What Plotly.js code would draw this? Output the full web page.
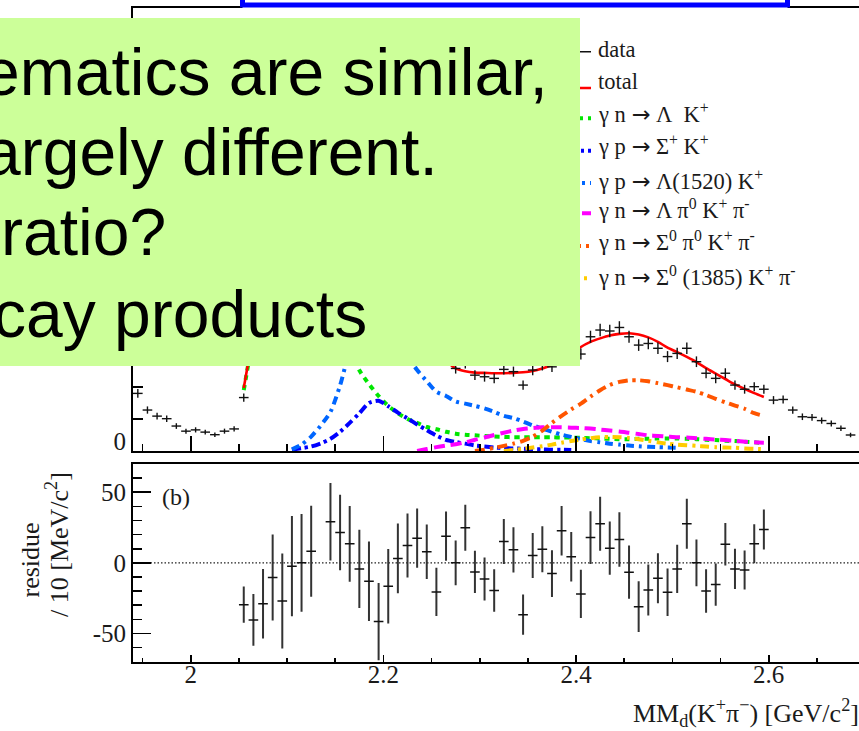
<!DOCTYPE html>
<html>
<head>
<meta charset="utf-8">
<script src="https://cdn.plot.ly/plotly-3.0.1.min.js"></script>
<style>
  html, body { margin: 0; padding: 0; overflow: hidden; background: #fff; }
  #chart { width: 906px; height: 731px; margin-left: -40px; }
</style>
</head>
<body>
<div id="chart"></div>
<script>
// Missing-mass spectrum MM_d(K+ pi-) in 10 MeV/c^2 bins (bin centres, GeV/c^2)
const dataX = [
  1.945, 1.955, 1.965, 1.975, 1.985, 1.995, 2.005, 2.015, 2.025, 2.035,
  2.045, 2.055, 2.065, 2.075, 2.085, 2.095, 2.105, 2.115, 2.125, 2.135,
  2.145, 2.155, 2.165, 2.175, 2.185, 2.195, 2.205, 2.215, 2.225, 2.235,
  2.245, 2.255, 2.265, 2.275, 2.285, 2.295, 2.305, 2.315, 2.325, 2.335,
  2.345, 2.355, 2.365, 2.375, 2.385, 2.395, 2.405, 2.415, 2.425, 2.435,
  2.445, 2.455, 2.465, 2.475, 2.485, 2.495, 2.505, 2.515, 2.525, 2.535,
  2.545, 2.555, 2.565, 2.575, 2.585, 2.595, 2.605, 2.615, 2.625, 2.635,
  2.645, 2.655, 2.665, 2.675, 2.685
];
// counts per bin
const dataY = [
  180, 128, 109, 101, 78, 62, 66, 59, 51, 62,
  69, 167, 335, 605, 924, 1129, 1260, 1197, 1037, 890,
  751, 713, 718, 767, 790, 751, 697, 610, 511, 441,
  372, 292, 303, 258, 274, 237, 232, 227, 255, 248,
  206, 253, 268, 263, 304, 304, 303, 357, 378, 375,
  386, 357, 331, 336, 321, 295, 305, 321, 279, 243,
  227, 243, 206, 193, 201, 193, 159, 161, 128, 107,
  105, 95, 86, 71, 50
];

// fit range: 2.055 ... 2.595
const fitX = dataX.slice(11, 66);

const totalY = [
  197, 375, 634, 934, 1156, 1262, 1197, 1029, 880, 722,
  692, 705, 771, 803, 793, 714, 607, 499, 424, 364,
  313, 282, 258, 249, 245, 244, 243, 243, 244, 246,
  250, 258, 269, 281, 300, 325, 341, 352, 361, 366,
  368, 364, 355, 341, 323, 309, 294, 278, 259, 242,
  225, 208, 194, 181, 169
];
const lambdaK = [
  190, 370, 625, 925, 1145, 1250, 1167, 967, 776, 564,
  427, 317, 252, 209, 172, 141, 118, 100, 88, 75,
  68, 60, 54, 51, 49, 47, 45, 44, 43, 43,
  43, 43, 43, 42, 42, 41, 40, 39, 38, 37,
  37, 38, 38, 39, 39, 39, 38, 37, 35, 34,
  32, 31, 29, 27, 25
];
const sigmaPlusK = [
  null, null, null, null, null, 4, 9, 14, 24, 38,
  60, 88, 118, 150, 157, 140, 120, 102, 83, 65,
  48, 35, 28, 23, 17, 14, 11, 9, 8, 7,
  6, 5, 4, 4, 3, null, null, null, null, null,
  null, null, null, null, null, null, null, null, null, null,
  null, null, null, null, null
];
const lambda1520K = [
  null, null, null, null, null, 5, 20, 45, 80, 122,
  205, 317, 401, 444, 464, 433, 369, 297, 253, 218,
  185, 172, 155, 148, 141, 133, 122, 110, 103, 92,
  80, 70, 60, 51, 44, 37, 31, 27, 23, 20,
  17, 15, 13, 12, 11, 10, null, null, null, null,
  null, null, null, null, null
];
const lambdaPi0KPi = [
  null, null, null, null, null, null, null, null, null, null,
  null, null, null, null, null, null, null, null, 0, 6,
  12, 17, 21, 27, 35, 42, 50, 57, 64, 69,
  72, 74, 74, 74, 73, 72, 70, 67, 64, 61,
  57, 53, 49, 47, 45, 43, 42, 40, 38, 36,
  34, 32, 29, 27, 26
];
const sigma0Pi0KPi = [
  null, null, null, null, null, null, null, null, null, null,
  null, null, null, null, null, null, null, null, null, null,
  null, null, null, null, 0, 4, 10, 16, 23, 32,
  45, 64, 88, 110, 130, 148, 170, 190, 206, 216,
  221, 221, 218, 212, 206, 199, 192, 185, 175, 163,
  152, 142, 132, 118, 110
];
const sigma1385KPi = [
  null, null, null, null, null, null, null, null, null, null,
  null, null, null, null, null, null, null, null, null, null,
  null, null, null, null, null, null, null, 0, 3, 7,
  11, 15, 20, 26, 31, 36, 40, 43, 44, 43,
  41, 37, 32, 27, 23, 20, 18, 16, 14, 12,
  11, 10, 8, 7, 6
];

// residue (data - fit) per 10 MeV/c^2 and its uncertainty
const residY = [
  -29.6, -40.4, -29.0, -10.4, -27.0, -2.4, 0.0, 8.2, null, 29.1,
  21.5, 13.5, -4.3, -13.0, -41.6, -16.6, 3.1, 12.3, 17.5, 7.8,
  -20.6, 18.9, 0.0, 24.8, -6.4, -11.4, -19.6, 15.1, 9.2, -36.7,
  5.2, 9.6, -7.6, 22.7, 4.3, -22.0, 17.9, 27.7, 10.4, 16.5,
  -6.6, -31.0, -19.2, -10.9, -20.8, -4.3, 27.7, 0.0, -20.0, -15.4,
  13.2, -4.3, -5.0, 13.5, 23.6
];
const residErr = [
  12.9, 18.3, 24.6, 30.4, 33.6, 35.5, 34.6, 32.2, null, 27.4,
  26.7, 26.8, 27.7, 28.1, 27.4, 26.4, 24.7, 22.6, 21.0, 19.3,
  17.1, 17.4, 15.8, 16.3, 15.0, 15.2, 15.0, 16.0, 16.0, 14.3,
  16.0, 16.3, 16.5, 17.5, 17.5, 17.1, 18.7, 19.1, 18.9, 19.3,
  18.9, 18.0, 18.0, 17.7, 16.8, 17.1, 17.7, 16.5, 15.4, 15.0,
  15.1, 14.2, 13.8, 13.8, 14.1
];

const ARROW = '<span style="font-family:DejaVu Sans">→</span>';
const legendLabels = [
  'data',
  'total',
  'γ n ' + ARROW + ' Λ\u00a0\u00a0K<sup>+</sup>',
  'γ p ' + ARROW + ' Σ<sup>+</sup> K<sup>+</sup>',
  'γ p ' + ARROW + ' Λ(1520) K<sup>+</sup>',
  'γ n ' + ARROW + ' Λ π<sup>0</sup> K<sup>+</sup> π<sup>-</sup>',
  'γ n ' + ARROW + ' Σ<sup>0</sup> π<sup>0</sup> K<sup>+</sup> π<sup>-</sup>',
  'γ n ' + ARROW + ' Σ<sup>0</sup> (1385) K<sup>+</sup> π<sup>-</sup>'
];
const noteLines = [
  'ematics are similar,',
  'argely different.',
  'ratio?',
  'cay products'
];
const xTickVals = [2, 2.2, 2.4, 2.6];
const xTickText = ['2', '2.2', '2.4', '2.6'];
const resTickVals = [-50, 0, 50];
const resTickText = ['-50', '0', '50'];

// ---------------------------------------------------------------------------
// The figure is 40 px wider than the window and shifted left by that amount,
// so text running off the left edge is clipped by the window, not moved.
const OFF = 40;
const W = 906, H = 731;
const PX = v => (v + OFF) / W;  // window pixel -> paper x
const PY = v => 1 - v / H;      // window pixel -> paper y
const SERIF = 'Liberation Serif, Times New Roman, serif';
const SANS = 'Liberation Sans, Arial, sans-serif';
const INK = '#1a1a1a';

const styles = [
  { color: '#111111', width: 1.5, dash: 'solid' },
  { color: '#ff0000', width: 2.6, dash: 'solid' },
  { color: '#00e600', width: 4, dash: '5px,5px' },
  { color: '#0000ff', width: 4, dash: '9px,4px,3px,4px' },
  { color: '#0066ff', width: 4, dash: '8px,5px,3px,5px' },
  { color: '#ff00ff', width: 4, dash: '11px,6px' },
  { color: '#ff5500', width: 4, dash: '10px,5px,3px,5px' },
  { color: '#ffcc00', width: 4, dash: '9px,5px,3px,5px' }
];

function component(y, s) {
  return {
    x: fitX, y: y, type: 'scatter', mode: 'lines', xaxis: 'x', yaxis: 'y',
    line: { color: s.color, width: s.width, dash: s.dash, shape: 'spline', smoothing: 0.7 },
    connectgaps: false, hoverinfo: 'skip', showlegend: false
  };
}

const traces = [
  component(lambdaK, styles[2]),
  component(sigmaPlusK, styles[3]),
  component(lambda1520K, styles[4]),
  component(lambdaPi0KPi, styles[5]),
  component(sigma0Pi0KPi, styles[6]),
  component(sigma1385KPi, styles[7]),
  component(totalY, styles[1]),
  {
    x: dataX, y: dataY, type: 'scatter', mode: 'markers', xaxis: 'x', yaxis: 'y',
    marker: { size: 1, color: 'rgba(0,0,0,0)' },
    error_y: { type: 'sqrt', color: '#111', thickness: 1.4, width: 0 },
    error_x: { type: 'constant', value: 0.005, color: '#111', thickness: 1.4, width: 0 },
    hoverinfo: 'skip', showlegend: false
  },
  {
    x: fitX, y: residY, type: 'scatter', mode: 'markers', xaxis: 'x2', yaxis: 'y2',
    marker: { size: 1, color: 'rgba(0,0,0,0)' },
    error_y: { type: 'data', array: residErr, color: '#333', thickness: 2, width: 0 },
    error_x: { type: 'constant', value: 0.005, color: '#111', thickness: 1.5, width: 0 },
    hoverinfo: 'skip', showlegend: false
  },
  // carries the tick-label axis of the residue panel
  {
    x: [2.0], y: [0], type: 'scatter', mode: 'markers', xaxis: 'x3', yaxis: 'y2',
    marker: { size: 1, color: 'rgba(0,0,0,0)' }, hoverinfo: 'skip', showlegend: false
  }
];

const xDomain = [PX(133), PX(865)];
const axisCommon = {
  showline: true, mirror: true, linecolor: '#000', linewidth: 2,
  showgrid: false, zeroline: false, ticks: 'inside', tickcolor: '#000', tickwidth: 1.8,
  tickfont: { family: SERIF, size: 25, color: INK }
};

const layout = {
  width: W, height: H,
  margin: { l: 0, r: 0, t: 0, b: 0 },
  paper_bgcolor: '#fff', plot_bgcolor: '#fff',
  showlegend: false,
  xaxis: Object.assign({}, axisCommon, {
    domain: xDomain, range: [1.94, 2.70], anchor: 'y',
    tickmode: 'array', tickvals: xTickVals, ticklen: 15, showticklabels: false,
    minor: { tickmode: 'linear', tick0: 2, dtick: 0.05, ticklen: 7, tickwidth: 1.6, ticks: 'inside', tickcolor: '#000' }
  }),
  yaxis: Object.assign({}, axisCommon, {
    domain: [PY(451), PY(8)], range: [0, 1384.4], anchor: 'x',
    tickmode: 'array', tickvals: [0], ticktext: ['0'], ticklen: 20, ticklabelshift: -10,
    minor: { tickmode: 'linear', tick0: 0, dtick: 100, ticklen: 10, tickwidth: 1.6, ticks: 'inside', tickcolor: '#000' }
  }),
  xaxis2: Object.assign({}, axisCommon, {
    domain: xDomain, range: [1.94, 2.70], anchor: 'y2',
    tickmode: 'array', tickvals: xTickVals, ticklen: 7, showticklabels: false,
    minor: { tickmode: 'linear', tick0: 2, dtick: 0.05, ticklen: 4, tickwidth: 1.6, ticks: 'inside', tickcolor: '#000' }
  }),
  // tick labels of the residue panel, set slightly closer to the axis line
  xaxis3: {
    domain: xDomain, range: [1.94, 2.70], overlaying: 'x2', anchor: 'free', position: PY(656.5),
    tickmode: 'array', tickvals: xTickVals, ticktext: xTickText, ticks: '',
    showline: false, showgrid: false, zeroline: false,
    tickfont: { family: SERIF, size: 25, color: INK }
  },
  yaxis2: Object.assign({}, axisCommon, {
    domain: [PY(661.7), PY(464)], range: [-70, 70], anchor: 'x2',
    tickmode: 'array', tickvals: resTickVals, ticktext: resTickText, ticklen: 18,
    minor: { tickmode: 'linear', tick0: 0, dtick: 10, ticklen: 9, tickwidth: 1.6, ticks: 'inside', tickcolor: '#000' }
  }),
  shapes: [],
  annotations: []
};

// zero line of the residue panel
layout.shapes.push({
  type: 'line', xref: 'x2', yref: 'y2', x0: 1.94, x1: 2.70, y0: 0, y1: 0,
  line: { color: '#222', width: 1.2, dash: '1.5px,2px' }, layer: 'below'
});

// legend rows: sample line y, text centre y
const legendLineY = [51.7, 88, 118.3, 150.7, 183, 213.3, 246, 278.3];
const legendTextY = [49.7, 81.7, 113, 145.5, 180, 209.5, 240.5, 275.5];
legendLabels.forEach((label, i) => {
  const s = styles[i];
  layout.shapes.push({
    type: 'line', xref: 'paper', yref: 'paper', layer: 'above',
    x0: PX(548), x1: PX(591), y0: PY(legendLineY[i]), y1: PY(legendLineY[i]),
    line: { color: s.color, width: s.width, dash: s.dash }
  });
  layout.annotations.push({
    xref: 'paper', yref: 'paper', x: PX(596), y: PY(legendTextY[i]),
    xanchor: 'left', yanchor: 'middle', showarrow: false, text: label,
    font: { family: SERIF, size: 22.5, color: INK }
  });
});

// note box
layout.shapes.push({
  type: 'rect', xref: 'paper', yref: 'paper', layer: 'above',
  x0: PX(-30), x1: PX(580), y0: PY(366), y1: PY(18),
  fillcolor: '#ccff99', line: { width: 0 }
});
const noteX = [-19, -18, -1.5, -9];
const noteY = [72.1, 152.1, 232.1, 313.8];
noteLines.forEach((t, i) => {
  layout.annotations.push({
    xref: 'paper', yref: 'paper', x: PX(noteX[i]), y: PY(noteY[i]),
    xanchor: 'left', yanchor: 'middle', showarrow: false, text: t,
    font: { family: SANS, size: 66, color: '#000' }
  });
});

// framed title box at the top edge
layout.shapes.push({
  type: 'rect', xref: 'paper', yref: 'paper', layer: 'above',
  x0: PX(242.5), x1: PX(787.5), y0: PY(9.5), y1: PY(-30),
  fillcolor: '#fff', line: { width: 0 }
});
layout.shapes.push({
  type: 'rect', xref: 'paper', yref: 'paper', layer: 'above',
  x0: PX(242.5), x1: PX(787.5), y0: PY(5), y1: PY(-30),
  fillcolor: '#fff', line: { color: '#0000ff', width: 5 }
});

// panel label and axis titles
layout.annotations.push({
  xref: 'paper', yref: 'paper', x: PX(160), y: PY(497), xanchor: 'left', yanchor: 'middle',
  showarrow: false, text: '(b)', font: { family: SERIF, size: 24, color: INK }
});
layout.annotations.push({
  xref: 'paper', yref: 'paper', x: PX(29.5), y: PY(560), xanchor: 'center', yanchor: 'middle',
  showarrow: false, textangle: -90, text: 'residue', font: { family: SERIF, size: 26, color: INK }
});
layout.annotations.push({
  xref: 'paper', yref: 'paper', x: PX(57), y: PY(545), xanchor: 'center', yanchor: 'middle',
  showarrow: false, textangle: -90, text: '/ 10 [MeV/c<sup>2</sup>]', font: { family: SERIF, size: 26, color: INK }
});
layout.annotations.push({
  xref: 'paper', yref: 'paper', x: PX(860.5), y: PY(713), xanchor: 'right', yanchor: 'middle',
  showarrow: false, text: 'MM<sub>d</sub>(K<sup>+</sup>π<sup>−</sup>) [GeV/c<sup>2</sup>]',
  font: { family: SERIF, size: 26, color: INK }
});

Plotly.newPlot('chart', traces, layout, { staticPlot: true, displayModeBar: false });
</script>
</body>
</html>
